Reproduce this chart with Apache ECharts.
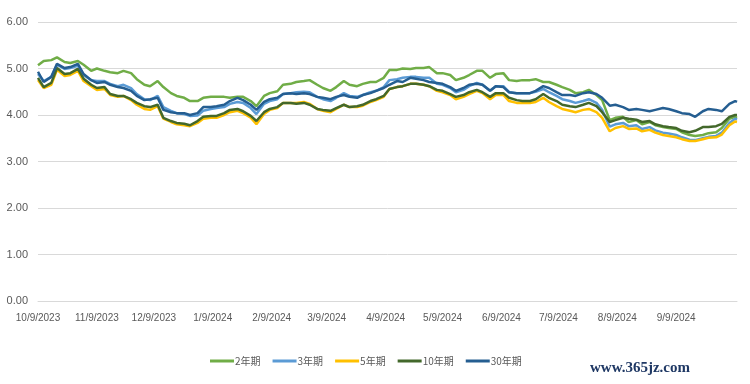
<!DOCTYPE html>
<html><head><meta charset="utf-8">
<script src="https://cdn.jsdelivr.net/npm/echarts@6/dist/echarts.min.js"></script>
<style>html,body{margin:0;padding:0;background:#fff}#c{width:750px;height:384px}</style>
</head><body><div id="c"></div>
<script>
const seriesNames = ['2年期','3年期','5年期','10年期','30年期'];
const seriesColors = ['#70AD47','#5B9BD5','#FFC000','#43682B','#255E91'];
const axisStart = '2023-10-09';
const axisEnd = '2024-10-11';
const tickLabels = ['10/9/2023','11/9/2023','12/9/2023','1/9/2024','2/9/2024','3/9/2024','4/9/2024','5/9/2024','6/9/2024','7/9/2024','8/9/2024','9/9/2024'];
const yTicks = [0,1,2,3,4,5,6];

const dates = ['2023-10-09','2023-10-12','2023-10-16','2023-10-19','2023-10-23','2023-10-26','2023-10-30','2023-11-02','2023-11-06','2023-11-09',
'2023-11-13','2023-11-16','2023-11-20','2023-11-23','2023-11-27','2023-11-30','2023-12-04','2023-12-07','2023-12-11','2023-12-14',
'2023-12-18','2023-12-21','2023-12-25','2023-12-28','2024-01-01','2024-01-04','2024-01-08','2024-01-11','2024-01-15','2024-01-18',
'2024-01-22','2024-01-25','2024-01-29','2024-02-01','2024-02-05','2024-02-08','2024-02-12','2024-02-15','2024-02-19','2024-02-22',
'2024-02-26','2024-02-29','2024-03-04','2024-03-07','2024-03-11','2024-03-14','2024-03-18','2024-03-21','2024-03-25','2024-03-28',
'2024-04-01','2024-04-04','2024-04-08','2024-04-11','2024-04-15','2024-04-18','2024-04-22','2024-04-25','2024-04-29','2024-05-02',
'2024-05-06','2024-05-09','2024-05-13','2024-05-16','2024-05-20','2024-05-23','2024-05-27','2024-05-30','2024-06-03','2024-06-06',
'2024-06-10','2024-06-13','2024-06-17','2024-06-20','2024-06-24','2024-06-27','2024-07-01','2024-07-04','2024-07-08','2024-07-11',
'2024-07-15','2024-07-18','2024-07-22','2024-07-25','2024-07-29','2024-08-01','2024-08-05','2024-08-08','2024-08-12','2024-08-15',
'2024-08-19','2024-08-22','2024-08-26','2024-08-29','2024-09-02','2024-09-05','2024-09-09','2024-09-12','2024-09-16','2024-09-19',
'2024-09-23','2024-09-26','2024-09-30','2024-10-03','2024-10-07','2024-10-10','2024-10-11'];

const y2 = [5.07,5.16,5.18,5.24,5.14,5.12,5.16,5.08,4.95,5.00,
4.95,4.92,4.90,4.95,4.90,4.77,4.65,4.62,4.73,4.60,
4.47,4.41,4.37,4.30,4.30,4.37,4.39,4.39,4.39,4.37,
4.39,4.39,4.30,4.19,4.41,4.47,4.51,4.65,4.67,4.71,
4.73,4.75,4.65,4.58,4.52,4.60,4.73,4.65,4.62,4.67,
4.71,4.71,4.80,4.97,4.97,5.00,4.99,5.01,5.01,5.03,
4.90,4.90,4.86,4.75,4.80,4.86,4.95,4.95,4.80,4.88,
4.90,4.75,4.73,4.75,4.75,4.77,4.71,4.71,4.65,4.60,
4.54,4.47,4.49,4.54,4.43,4.32,3.89,3.94,3.96,3.85,
3.89,3.80,3.85,3.78,3.74,3.72,3.70,3.63,3.57,3.55,
3.57,3.61,3.63,3.72,3.92,3.96,3.94];

const y3 = [4.88,4.73,4.82,5.08,4.99,5.01,5.06,4.86,4.75,4.73,
4.73,4.67,4.62,4.65,4.58,4.45,4.34,4.32,4.41,4.17,
4.09,4.04,4.02,3.98,3.99,4.09,4.13,4.15,4.17,4.24,
4.28,4.26,4.15,4.02,4.24,4.30,4.34,4.45,4.47,4.49,
4.50,4.49,4.39,4.34,4.30,4.37,4.47,4.41,4.39,4.43,
4.49,4.52,4.60,4.75,4.77,4.80,4.82,4.82,4.80,4.80,
4.67,4.65,4.58,4.49,4.54,4.62,4.69,4.65,4.52,4.62,
4.62,4.49,4.47,4.47,4.47,4.50,4.56,4.49,4.41,4.34,
4.30,4.26,4.30,4.34,4.26,4.11,3.75,3.80,3.83,3.76,
3.78,3.70,3.74,3.67,3.62,3.60,3.57,3.52,3.47,3.46,
3.50,3.53,3.55,3.62,3.83,3.92,3.90];

const y5 = [4.75,4.58,4.65,4.97,4.84,4.86,4.95,4.73,4.62,4.54,
4.56,4.43,4.39,4.41,4.32,4.22,4.13,4.11,4.19,3.92,
3.85,3.80,3.78,3.76,3.83,3.92,3.94,3.94,4.00,4.06,
4.09,4.04,3.94,3.80,4.02,4.11,4.15,4.26,4.26,4.26,
4.28,4.24,4.13,4.09,4.06,4.13,4.22,4.17,4.17,4.20,
4.28,4.32,4.39,4.56,4.60,4.62,4.67,4.67,4.65,4.62,
4.52,4.49,4.43,4.34,4.39,4.45,4.52,4.47,4.34,4.43,
4.43,4.30,4.26,4.26,4.26,4.28,4.37,4.28,4.19,4.13,
4.09,4.06,4.11,4.13,4.06,3.94,3.65,3.72,3.76,3.70,
3.71,3.65,3.68,3.62,3.57,3.55,3.52,3.48,3.44,3.44,
3.48,3.51,3.52,3.58,3.78,3.86,3.85];

const y10 = [4.80,4.60,4.69,5.01,4.88,4.90,4.99,4.78,4.65,4.58,
4.60,4.45,4.41,4.41,4.34,4.26,4.19,4.17,4.22,3.94,
3.87,3.83,3.81,3.78,3.87,3.96,3.98,3.98,4.04,4.11,
4.13,4.08,3.98,3.87,4.06,4.13,4.17,4.26,4.26,4.24,
4.26,4.22,4.13,4.11,4.09,4.15,4.22,4.17,4.19,4.22,
4.30,4.34,4.41,4.56,4.60,4.62,4.67,4.67,4.65,4.62,
4.54,4.52,4.45,4.39,4.43,4.49,4.54,4.49,4.39,4.47,
4.47,4.37,4.32,4.30,4.30,4.34,4.45,4.37,4.30,4.22,
4.19,4.17,4.22,4.26,4.19,4.06,3.85,3.89,3.94,3.92,
3.90,3.85,3.87,3.80,3.76,3.74,3.72,3.66,3.63,3.66,
3.74,3.74,3.76,3.81,3.96,4.00,4.00];

const y30 = [4.93,4.71,4.82,5.10,5.01,5.03,5.10,4.88,4.75,4.69,
4.71,4.65,4.60,4.58,4.52,4.41,4.32,4.34,4.37,4.11,
4.06,4.04,4.04,4.00,4.04,4.17,4.17,4.19,4.22,4.30,
4.37,4.32,4.22,4.11,4.28,4.34,4.37,4.45,4.47,4.45,
4.47,4.45,4.39,4.37,4.34,4.39,4.43,4.39,4.37,4.43,
4.47,4.52,4.58,4.65,4.73,4.71,4.80,4.78,4.75,4.71,
4.69,4.67,4.60,4.52,4.58,4.65,4.67,4.65,4.52,4.62,
4.60,4.49,4.47,4.47,4.47,4.52,4.62,4.58,4.49,4.43,
4.43,4.41,4.47,4.49,4.45,4.37,4.20,4.22,4.17,4.11,
4.13,4.11,4.08,4.11,4.15,4.13,4.08,4.04,4.02,3.96,
4.08,4.13,4.11,4.08,4.24,4.30,4.28];

const seriesValues = [y2, y3, y5, y10, y30];

function fmt(d){ return (d.getUTCMonth()+1)+'/'+d.getUTCDate()+'/'+d.getUTCFullYear(); }
const categories = [];
for (let t = Date.parse(axisStart+'T00:00:00Z'); t <= Date.parse(axisEnd+'T00:00:00Z'); t += 86400000) categories.push(fmt(new Date(t)));
const idxOf = {}; categories.forEach((c,i)=>{ idxOf[c]=i; });
function build(vals){
  const arr = new Array(categories.length).fill(null);
  const n = Math.min(vals.length, dates.length);
  for (let i=0;i<n;i++){ const c = fmt(new Date(dates[i]+'T00:00:00Z')); if (idxOf[c]!==undefined) arr[idxOf[c]] = vals[i]; }
  return arr;
}
const tickSet = new Set(tickLabels);
const axisFont = '"Liberation Sans Narrow","Liberation Sans",Arial,sans-serif';

const chart = echarts.init(document.getElementById('c'), null, {renderer:'canvas'});
chart.setOption({
  animation: false,
  backgroundColor: '#ffffff',
  grid: { left: 38, right: 13, top: 22, bottom: 83, containLabel: false },
  xAxis: {
    type: 'category', data: categories, boundaryGap: false,
    axisLine: { show: true, lineStyle: { color: '#d9d9d9', width: 1 } },
    axisTick: { show: false },
    splitLine: { show: false },
    axisLabel: { interval: (i, v) => tickSet.has(v), color: '#595959', fontSize: 10, fontFamily: axisFont, margin: 12 }
  },
  yAxis: {
    type: 'value', min: yTicks[0], max: yTicks[yTicks.length-1], interval: 1,
    axisLine: { show: false }, axisTick: { show: false },
    splitLine: { lineStyle: { color: '#d9d9d9', width: 1 } },
    axisLabel: { formatter: v => v.toFixed(2), color: '#595959', fontSize: 11, fontFamily: axisFont, margin: 10 }
  },
  legend: {
    data: seriesNames, left: 205, top: 351, icon: 'rect', itemWidth: 24, itemHeight: 3, itemGap: 12,
    textStyle: { color: '#595959', fontSize: 10, fontFamily: '"Noto Sans CJK SC",sans-serif', padding: [0,0,0,-4] }
  },
  graphic: [{
    type: 'text', left: 590, top: 361,
    style: { text: 'www.365jz.com', fill: '#1F3864', font: 'bold 15px "Liberation Serif","DejaVu Serif",serif' }
  }],
  series: seriesNames.map((name, k) => ({
    name, type: 'line', data: build(seriesValues[k]), connectNulls: true, showSymbol: false, symbol: 'none',
    lineStyle: { color: seriesColors[k], width: 2.5 }, itemStyle: { color: seriesColors[k] }, z: 2 + k
  }))
});
</script></body></html>
